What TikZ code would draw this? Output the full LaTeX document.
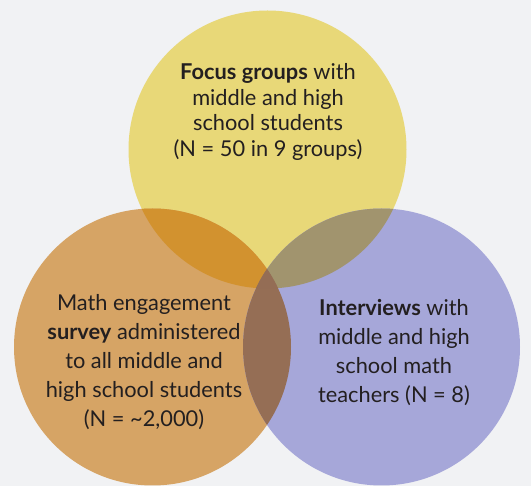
\documentclass[tikz,border=0pt]{standalone}
\usepackage{fontspec}
\setmainfont{Lato}
\definecolor{bg}{HTML}{F1F2F4}
\definecolor{cyel}{HTML}{E8D878}
\definecolor{cora}{HTML}{D6A465}
\definecolor{cpur}{HTML}{A6A7D9}
\definecolor{cyo}{HTML}{D2922F}
\definecolor{cyp}{HTML}{A1946E}
\definecolor{cop}{HTML}{956E55}
\definecolor{call}{HTML}{946D55}
\definecolor{ink}{HTML}{231F20}
\tikzset{
  lbl/.style={align=center, text=ink, inner sep=0pt, font=\fontsize{21.8}{29}\selectfont},
}
\newcommand{\yelC}{(267.5,149.5) circle[radius=139]}
\newcommand{\oraC}{(152.5,347) circle[radius=138.5]}
\newcommand{\purC}{(381.5,347) circle[radius=138.5]}
\begin{document}
\begin{tikzpicture}[x=1pt,y=-1pt]
\fill[bg] (0,0) rectangle (531,486);
\useasboundingbox (0,0) rectangle (531,486);
\fill[cyel] \yelC;
\fill[cora] \oraC;
\fill[cpur] \purC;
\begin{scope}
  \clip \yelC;
  \fill[cyo] \oraC;
  \fill[cyp] \purC;
\end{scope}
\begin{scope}
  \clip \oraC;
  \fill[cop] \purC;
\end{scope}
\begin{scope}
  \clip \oraC;
  \clip \purC;
  \fill[call] \yelC;
\end{scope}
\node[lbl, font=\fontsize{21.8}{25.5}\selectfont] (tyel) at (268,112) {\textbf{Focus groups} with\\middle and high\\school students\\(N = 50 in 9 groups)};
\node[lbl] (tora) at (144,362) {Math engagement\\\textbf{survey} administered\\to all middle and\\high school students\\(N = \textasciitilde2,000)};
\node[lbl] (tpur) at (394,353) {\textbf{Interviews} with\\middle and high\\school math\\teachers (N = 8)};
\end{tikzpicture}
\end{document}
